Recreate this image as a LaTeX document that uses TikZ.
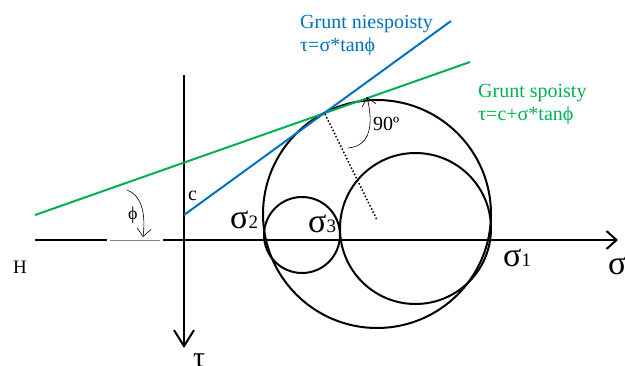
\documentclass[tikz,border=0pt]{standalone}
\usepackage{fontspec}
\setmainfont{Liberation Serif}
\usetikzlibrary{arrows.meta}
\definecolor{gblue}{RGB}{0,112,192}
\definecolor{ggreen}{RGB}{0,176,80}
\tikzset{
  axis/.style={line width=2pt, black},
  circ/.style={line width=2pt, black},
  envblue/.style={line width=2pt, gblue},
  envgreen/.style={line width=2pt, ggreen},
  anglearrow/.style={line width=0.6pt, black},
  lbl/.style={inner sep=0pt, anchor=base west, font=\fontsize{20}{20}\selectfont},
  biglbl/.style={inner sep=0pt, anchor=base west},
}
\newcommand{\sig}[1]{{\fontsize{34}{34}\selectfont σ}{\fontsize{19}{19}\selectfont #1}}
\begin{document}
\begin{tikzpicture}[x=1pt,y=-1pt]
\useasboundingbox (0,0) rectangle (625,365);
% coordinates
\coordinate (hL) at (35,240);
\coordinate (hL1) at (107,240);
\coordinate (hG0) at (110,240);
\coordinate (hG1) at (160,240);
\coordinate (hR0) at (163,240);
\coordinate (hR) at (618,240);
\coordinate (vT) at (184,75);
\coordinate (vB) at (184,348);
\coordinate (gS) at (35,215);
\coordinate (gE) at (470,62);
\coordinate (bS) at (184,215);
\coordinate (bE) at (451,21);
\coordinate (T) at (325,114);
\coordinate (C1) at (377,214);
\coordinate (C2) at (415.5,228.5);
\coordinate (C3) at (302,235);
\coordinate (D) at (377,220);
% axes
\draw[axis] (hL) -- (hL1);
\draw[line width=0.8pt, gray] (hG0) -- (hG1);
\draw[axis, -{Straight Barb[length=10pt,width=18pt,line width=2pt]}] (hR0) -- (hR);
\draw[axis, -{Straight Barb[length=16pt,width=20pt,line width=2pt]}] (vT) -- (vB);
% circles
\draw[circ] (C1) circle[radius=114];
\draw[circ] (C2) circle[radius=75.5];
\draw[circ] (C3) circle[radius=38];
% envelopes
\draw[envgreen] (gS) -- (gE);
\draw[envblue] (bS) -- (bE);
% radius to tangent point
\draw[line width=1.5pt, dotted] (T) -- (D);
% angle arrows
\coordinate (p0) at (127,190);
\coordinate (p1) at (143,237);
\draw[anglearrow, -{Straight Barb[length=8pt,width=14pt]}] (p0) .. controls (141,195) and (146,212) .. (p1);
\coordinate (q0) at (348,148);
\coordinate (q1) at (367,97);
\draw[anglearrow, -{Straight Barb[length=8pt,width=14pt]}] (q0) .. controls (372,146) and (373,122) .. (q1);
% labels
\node[lbl, text=gblue] (nl1) at (300,28) {Grunt niespoisty};
\node[lbl, text=gblue] (nl2) at (300,51) {τ=σ*tanϕ};
\node[lbl, text=ggreen] (sl1) at (478,97) {Grunt spoisty};
\node[lbl, text=ggreen] (sl2) at (478,120) {τ=c+σ*tanϕ};
\node[lbl] (ang) at (373,130) {90º};
\node[lbl] (cl) at (188,200) {c};
\node[lbl, font=\fontsize{18}{18}\selectfont] (phil) at (128,219) {ϕ};
\node[lbl, font=\fontsize{19}{19}\selectfont] (hl) at (13,273) {H};
\node[biglbl] (s2) at (230,228) {\sig{2}};
\node[biglbl] (s3) at (308,232) {\sig{3}};
\node[biglbl] (s1) at (503,266) {\sig{1}};
\node[biglbl, font=\fontsize{34}{34}\selectfont] (sax) at (608,274) {σ};
\node[biglbl, font=\fontsize{30}{30}\selectfont] (tax) at (193,367) {τ};
\end{tikzpicture}
\end{document}
